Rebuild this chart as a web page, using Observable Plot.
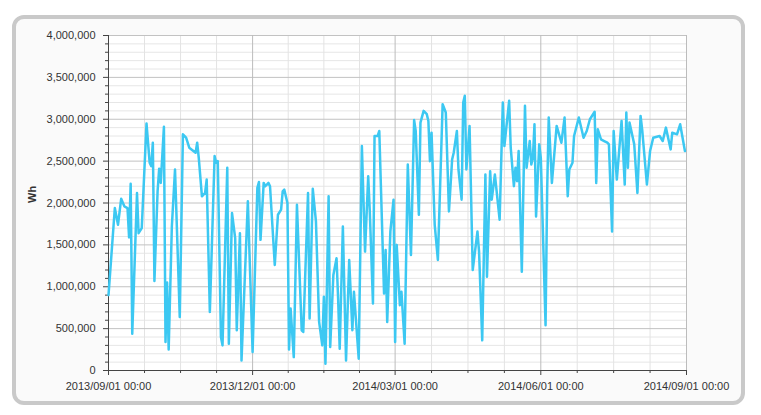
<!DOCTYPE html>
<html><head><meta charset="utf-8">
<script src="https://cdn.jsdelivr.net/npm/d3@7"></script>
<script src="https://cdn.jsdelivr.net/npm/@observablehq/plot@0.6"></script>
<style>
html,body{margin:0;padding:0;background:#fff;}
#wrap{position:relative;width:761px;height:415px;overflow:hidden;}
#panel{position:absolute;left:12px;top:15px;width:725px;height:382px;border:4px solid #c9c9c9;border-radius:12px;background:#fafafa;}
#chart{position:absolute;left:0;top:0;}
</style></head>
<body><div id="wrap"><div id="panel"></div><div id="chart"></div></div>
<script>
// Days since 2013/09/01 and daily energy (Wh)
const startDate = "2013-09-01";
const dayOffsets = [0,4,6,8,10,12,13,14,15,18,19,21,24,26,27,28,29,31,32,33,35,36,37,38,40,42,45,47,49,51,53,55,56,57,59,61,62,64,67,68,69,71,72,75,76,78,80,81,83,84,88,91,94,95,96,98,99,101,102,105,107,109,110,111,113,114,115,117,119,122,123,126,127,129,131,133,135,136,137,139,140,142,144,145,146,148,150,152,154,155,158,160,162,164,165,167,168,170,171,174,175,176,178,180,181,182,184,185,187,189,191,193,194,196,197,199,201,202,203,204,206,208,211,213,215,217,218,220,221,223,224,225,226,228,230,233,234,236,238,239,241,242,244,247,249,250,253,254,256,257,258,259,261,263,264,266,267,268,269,270,272,273,276,277,278,280,283,286,288,290,291,293,294,297,300,302,304,307,308,309,311,313,315,316,318,319,321,324,326,327,328,329,332,334,336,337,340,342,344,348,350,352,355,356,359,361,364];
const energyWh = [900000,1940000,1740000,2050000,1960000,1940000,1590000,2230000,440000,2120000,1640000,1700000,2950000,2480000,2440000,2720000,1070000,2140000,2410000,2240000,2910000,340000,1050000,250000,1720000,2400000,640000,2820000,2780000,2660000,2630000,2600000,2720000,2540000,2080000,2120000,2280000,700000,2560000,2480000,2500000,400000,300000,2420000,320000,1880000,1580000,480000,1640000,120000,2020000,220000,2180000,2250000,1560000,2240000,2200000,2240000,2200000,1260000,1860000,1920000,2140000,2160000,2000000,250000,740000,160000,1980000,480000,460000,2120000,620000,2170000,1780000,580000,300000,880000,80000,2080000,280000,1140000,1340000,860000,260000,1720000,120000,1320000,480000,940000,140000,2680000,1420000,2320000,1900000,800000,2800000,2800000,2860000,920000,1440000,580000,1660000,2040000,340000,1500000,780000,940000,320000,2460000,1380000,2990000,2860000,1860000,2960000,3100000,3060000,2980000,2500000,2840000,1740000,1320000,3180000,3080000,1900000,2520000,2600000,2860000,2400000,2040000,3200000,3280000,2400000,2920000,1200000,1660000,1420000,360000,2340000,1120000,2380000,2040000,2340000,1800000,3200000,2680000,3220000,2660000,2200000,2420000,2260000,2620000,1180000,3160000,2420000,2740000,2460000,2540000,2940000,1840000,2700000,2540000,540000,2140000,3020000,2240000,2920000,2720000,3020000,2080000,2400000,2480000,2800000,3020000,2780000,2860000,3000000,3090000,2240000,2880000,2760000,2740000,2720000,2700000,1660000,2860000,2280000,2980000,2220000,3080000,2420000,2960000,2700000,2120000,3040000,2880000,2220000,2620000,2780000,2800000,2740000,2900000,2640000,2840000,2820000,2940000,2620000];
const xMajorTickDates = ["2013-09-01","2013-12-01","2014-03-01","2014-06-01","2014-09-01"];
const yMajorTicks = [0,500000,1000000,1500000,2000000,2500000,3000000,3500000,4000000];
const yMinorStep = 100000;
const yLabel = "Wh";

const start = new Date(startDate + "T00:00:00Z");
const data = dayOffsets.map((d, i) => ({date: d3.utcDay.offset(start, d), value: energyWh[i]}));
const xMajor = xMajorTickDates.map(s => new Date(s + "T00:00:00Z"));
const xMinor = [];
for (let i = 0; i < xMajor.length - 1; i++) {
  const a = +xMajor[i], b = +xMajor[i + 1];
  for (let k = 1; k < 4; k++) xMinor.push(new Date(a + (b - a) * k / 4));
}
const yMinor = d3.range(0, 4000000 + 1, yMinorStep).filter(v => v % 500000 !== 0);

const chart = Plot.plot({
  width: 761, height: 415,
  marginLeft: 108, marginRight: 75, marginTop: 35, marginBottom: 45,
  style: {fontFamily: "'Liberation Sans', Arial, sans-serif", fontSize: "11px", color: "#333", background: "transparent", overflow: "visible"},
  x: {type: "utc", domain: [xMajor[0], xMajor[xMajor.length - 1]]},
  y: {domain: [0, 4000000]},
  marks: [
    Plot.frame({fill: "#ffffff", stroke: "none"}),
    Plot.gridY(yMinor, {stroke: "#e6e6e6", strokeOpacity: 1}),
    Plot.gridX(xMinor, {stroke: "#e3e3e3", strokeOpacity: 1}),
    Plot.gridY(yMajorTicks, {stroke: "#c2c2c2", strokeOpacity: 1}),
    Plot.gridX(xMajor, {stroke: "#bcbcbc", strokeOpacity: 1}),
    Plot.axisY(yMinor, {tickSize: 3, tickFormat: null, text: null, label: null, stroke: "#444"}),
    Plot.axisY(yMajorTicks, {tickSize: 5, tickPadding: 8, tickFormat: d3.format(","), label: null, stroke: "#444", fill: "#333"}),
    Plot.axisX(xMinor, {tickSize: 3, text: null, label: null, stroke: "#444"}),
    Plot.axisX(xMajor, {tickSize: 5, tickPadding: 7, tickFormat: d3.utcFormat("%Y/%m/%d %H:%M"), label: null, stroke: "#444", fill: "#333"}),
    Plot.ruleY([0], {stroke: "#444"}),
    Plot.ruleX([xMajor[0]], {stroke: "#444"}),
    Plot.line(data, {x: "date", y: "value", stroke: "#3cc8f2", strokeWidth: 2.5, strokeLinejoin: "round"}),
    Plot.text([yLabel], {frameAnchor: "left", dx: -76, rotate: -90, fontWeight: "bold", fontSize: 11, fill: "#333"})
  ]
});
document.getElementById("chart").appendChild(chart);
</script>
</body></html>
